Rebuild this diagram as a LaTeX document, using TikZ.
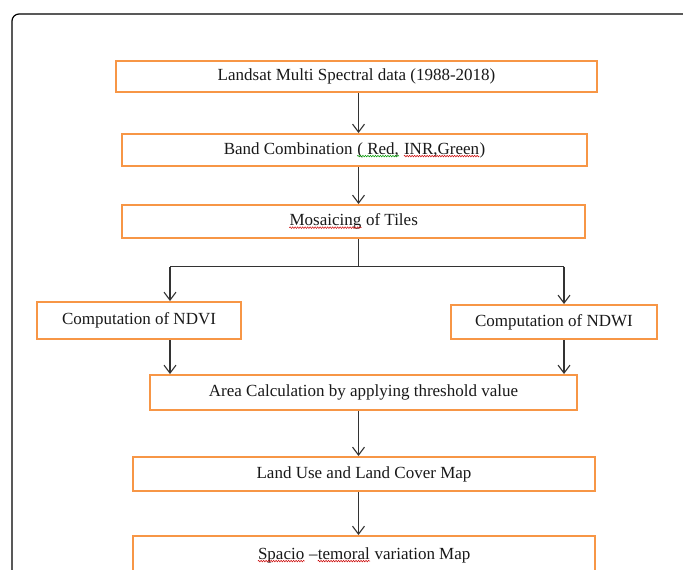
\documentclass[tikz,border=0pt]{standalone}
\usepackage{fontspec}
\setmainfont{Liberation Serif}
\usetikzlibrary{arrows.meta,decorations.pathmorphing}
\definecolor{boxorange}{HTML}{F79646}
\definecolor{arrowgray}{HTML}{333333}
\newcommand{\squig}[2]{\tikz[baseline=(sq.base)]{\node[inner sep=0pt, draw=none, fill=none, minimum width=0pt, minimum height=0pt] (sq) {#2};
  \draw[#1, line width=0.5pt, decorate, decoration={snake, amplitude=0.8pt, segment length=2.5pt}] ([yshift=-2pt]sq.base west) -- ([yshift=-2pt]sq.base east);}}
\begin{document}
\begin{tikzpicture}[x=1pt,y=1pt,
  stepbox/.style={draw=boxorange, line width=2pt, fill=white, inner sep=0pt,
    font=\fontsize{17}{20}\selectfont, text=black!90},
  flow/.style={draw=arrowgray, line width=1.1pt, -{Straight Barb[length=8pt,width=12pt,line width=1.1pt]}},
  plain/.style={draw=arrowgray, line width=1.1pt}]
\useasboundingbox (0,0) rectangle (683,-570);
\clip (0,0) rectangle (683,-570);
\fill[white] (0,0) rectangle (683,-570);
% outer frame
\draw[line width=1.2pt, rounded corners=7pt] (12,-600) -- (12,-14) -- (695,-14) -- (695,-600);
% boxes
\node[stepbox, minimum width=481, minimum height=31] (b1) at (356.5,-76.5) {Landsat Multi Spectral data (1988-2018)};
\node[stepbox, minimum width=465, minimum height=32] (b2) at (354.5,-150) {Band Combination \squig{green!60!black}{( Red,} \squig{red!80!black}{INR,Green})};
\node[stepbox, minimum width=463, minimum height=33] (b3) at (353.5,-221.5) {\squig{red!80!black}{Mosaicing} of Tiles};
\node[stepbox, minimum width=204, minimum height=37] (ndvi) at (139,-320.5) {Computation of NDVI};
\node[stepbox, minimum width=206, minimum height=34] (ndwi) at (554,-322) {Computation of NDWI};
\node[stepbox, minimum width=427, minimum height=35] (area) at (363.5,-392.5) {Area Calculation by applying threshold value};
\node[stepbox, minimum width=462, minimum height=34] (lulc) at (364,-474) {Land Use and Land Cover Map};
\node[stepbox, minimum width=462, minimum height=38] (stm) at (364,-555) {\squig{red!80!black}{Spacio} --\squig{red!80!black}{temoral} variation Map};
% connectors
\coordinate (cx) at (358.5,0);
\coordinate (j) at (358.5,-266.5);
\coordinate (jl) at (170,-266.5);
\coordinate (jr) at (564,-266.5);
\draw[flow] (b1.south -| cx) -- (b2.north -| cx);
\draw[flow] (b2.south -| cx) -- (b3.north -| cx);
\draw[plain] (b3.south -| cx) -- (j);
\draw[plain] (jl) -- (jr);
\draw[flow] (jl) -- (jl |- ndvi.north);
\draw[flow] (jr) -- (jr |- ndwi.north);
\draw[flow] (ndvi.south -| jl) -- (jl |- area.north);
\draw[flow] (ndwi.south -| jr) -- (jr |- area.north);
\draw[flow] (area.south -| cx) -- (lulc.north -| cx);
\draw[flow] (lulc.south -| cx) -- (stm.north -| cx);
\end{tikzpicture}
\end{document}
